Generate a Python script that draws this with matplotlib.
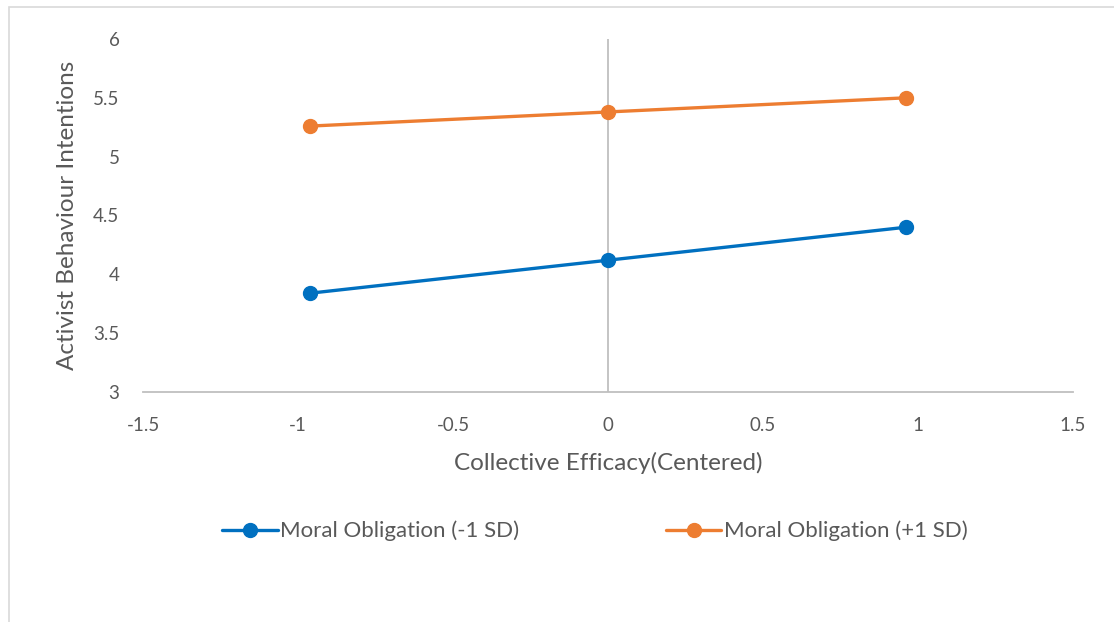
import matplotlib.pyplot as plt
from matplotlib.patches import Rectangle

# valores
efficacy = [-0.96, 0.0, 0.96]
low_moral = [3.84, 4.12, 4.40]
high_moral = [5.26, 5.38, 5.50]
series_names = ['Moral Obligation (-1 SD)', 'Moral Obligation (+1 SD)']
xticks = [-1.5, -1, -0.5, 0, 0.5, 1, 1.5]
yticks = [3, 3.5, 4, 4.5, 5, 5.5, 6]

GREY = '#595959'
plt.rcParams['font.family'] = ['Lato', 'DejaVu Sans']

fig = plt.figure(figsize=(11.14, 6.22), dpi=100)
ax = fig.add_axes([0.1284, 0.3698, 0.8348, 0.5675])

ax.plot(efficacy, low_moral, color='#0070C0', lw=2.4, marker='o', ms=10,
        label=series_names[0], solid_capstyle='round')
ax.plot(efficacy, high_moral, color='#ED7D31', lw=2.4, marker='o', ms=10,
        label=series_names[1], solid_capstyle='round')

ax.set_xlim(-1.5, 1.5)
ax.set_ylim(3, 6)
ax.set_xticks(xticks)
ax.set_xticklabels([f'{t:g}' for t in xticks])
ax.set_yticks(yticks)
ax.set_yticklabels([f'{t:g}' for t in yticks])

# eje vertical cruza en 0
ax.axvline(0, color='#bfbfbf', lw=1.3, zorder=0)
for s in ['top', 'right', 'left']:
    ax.spines[s].set_visible(False)
ax.spines['bottom'].set_color('#bfbfbf')
ax.spines['bottom'].set_linewidth(1.3)
ax.tick_params(axis='both', length=0, labelsize=13.5, colors=GREY)
ax.tick_params(axis='x', pad=18)
ax.tick_params(axis='y', pad=17)

ax.set_xlabel('Collective Efficacy(Centered)', fontsize=17.5, color=GREY, labelpad=13)
ax.set_ylabel('Activist Behaviour Intentions', fontsize=17.5, color=GREY, labelpad=11)

fig.legend(loc='center', bbox_to_anchor=(0.534, 1 - 531 / 622), ncol=2,
           frameon=False, fontsize=16, labelcolor=GREY, handlelength=2.5,
           handletextpad=0.1, columnspacing=6.6)

# marco del area del grafico
fig.patches.append(Rectangle((9 / 1114, -0.1), 1.2, 1 - 7 / 622 + 0.1,
                             transform=fig.transFigure, fill=False,
                             edgecolor='#d9d9d9', lw=1.2))

fig.savefig('out.png', dpi=100)
